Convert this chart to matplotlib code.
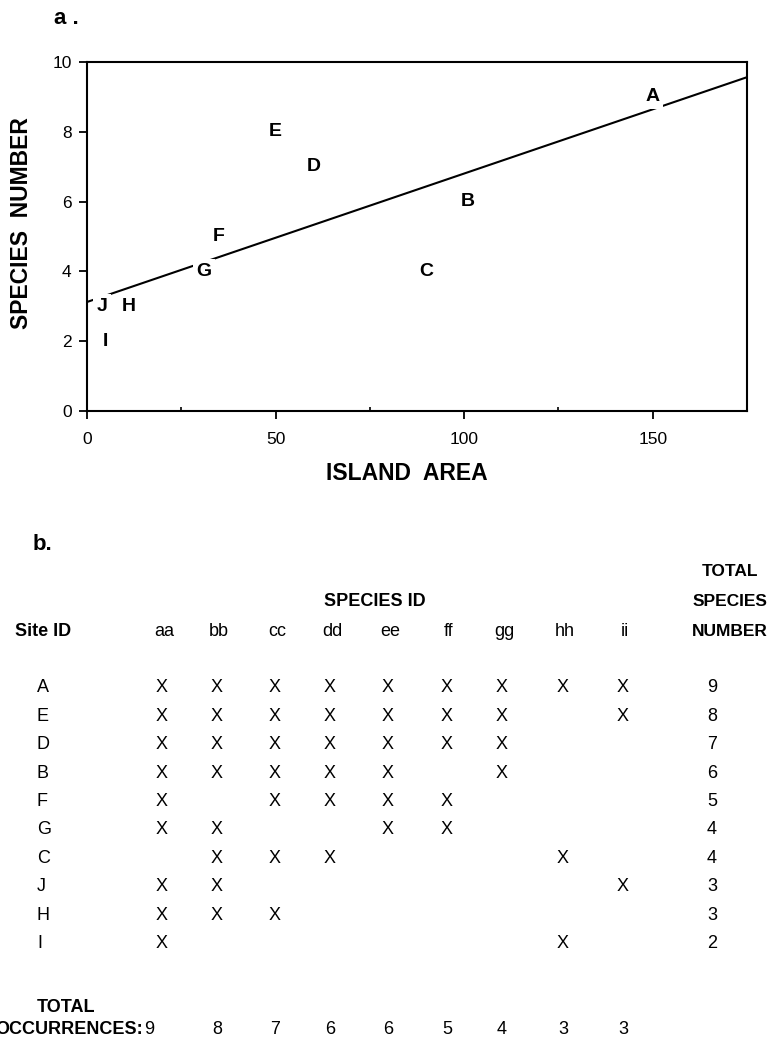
import numpy as np
import matplotlib
matplotlib.use("Agg")
import matplotlib.pyplot as plt
from matplotlib.ticker import MultipleLocator

plt.rcParams['font.family'] = ['Liberation Sans', 'DejaVu Sans']

# sites, in table order
sites = ['A', 'E', 'D', 'B', 'F', 'G', 'C', 'J', 'H', 'I']
island_area = [150, 50, 60, 101, 35, 31, 90, 4, 11, 5]
species_ids = ['aa', 'bb', 'cc', 'dd', 'ee', 'ff', 'gg', 'hh', 'ii']
# presence matrix (rows = sites, cols = species)
presence = [
    [1, 1, 1, 1, 1, 1, 1, 1, 1],
    [1, 1, 1, 1, 1, 1, 1, 0, 1],
    [1, 1, 1, 1, 1, 1, 1, 0, 0],
    [1, 1, 1, 1, 1, 0, 1, 0, 0],
    [1, 0, 1, 1, 1, 1, 0, 0, 0],
    [1, 1, 0, 0, 1, 1, 0, 0, 0],
    [0, 1, 1, 1, 0, 0, 0, 1, 0],
    [1, 1, 0, 0, 0, 0, 0, 0, 1],
    [1, 1, 1, 0, 0, 0, 0, 0, 0],
    [1, 0, 0, 0, 0, 0, 0, 1, 0],
]

pres = np.array(presence)
species_number = pres.sum(axis=1)
occurrences = pres.sum(axis=0)

W, H = 768, 1039
fig = plt.figure(figsize=(W / 100, H / 100), dpi=100)

def ftext(x, y, s, **kw):
    # place text using pixel coords of the page
    fig.text(x / W, 1 - y / H, s, **kw)

# ---- a. scatter + regression
ax = fig.add_axes([87 / W, 1 - 411 / H, 660 / W, 349 / H])
ax.set_xlim(0, 175)
ax.set_ylim(0, 10)

slope, icpt = np.polyfit(island_area, species_number, 1)
xx = np.array([0, 175])
ax.plot(xx, icpt + slope * xx, color='black', lw=1.5, zorder=2)

for s, xa, yn in zip(sites, island_area, species_number):
    ax.text(xa, yn, s, ha='center', va='center', fontsize=14, fontweight='bold',
            bbox=dict(facecolor='white', edgecolor='none', pad=2.5), zorder=3)

for sp in ax.spines.values():
    sp.set_linewidth(1.5)
ax.set_xticks([0, 50, 100, 150])
ax.set_yticks([0, 2, 4, 6, 8, 10])
ax.xaxis.set_minor_locator(MultipleLocator(25))
ax.tick_params(axis='x', which='major', direction='out', length=6, width=1.3,
               labelsize=12.5, pad=9, top=False)
ax.tick_params(axis='x', which='minor', direction='in', length=3, width=1.2, top=False)
ax.tick_params(axis='y', direction='out', length=6, width=1.3, labelsize=12.5,
               pad=5, right=False)

ax.set_xlabel('ISLAND  AREA', fontsize=16.5, fontweight='bold')
ax.set_ylabel('SPECIES  NUMBER', fontsize=16.5, fontweight='bold')
ax.xaxis.set_label_coords((407 - 87) / 660, -(462 - 411) / 349)
ax.yaxis.set_label_coords((33 - 87) / 660, (411 - 223) / 349)

ftext(54, 19, 'a .', fontsize=16, fontweight='bold', va='center')

# ---- b. table
ftext(33, 545, 'b.', fontsize=16, fontweight='bold', va='center')

col_x = [162, 217, 275, 330, 388, 447, 502, 563, 623]
tot_x = 712
row_y0, row_dy = 688, 28.4

ftext(375, 602, 'SPECIES ID', fontsize=13, fontweight='bold', ha='center', va='center')
ftext(15, 631, 'Site ID', fontsize=13, fontweight='bold', ha='left', va='center')
for cx, name in zip(col_x, species_ids):
    ftext(cx + 2, 632, name, fontsize=13, ha='center', va='center')
for yy, t in zip([572, 602, 631], ['TOTAL', 'SPECIES', 'NUMBER']):
    ftext(730, yy, t, fontsize=12.5, fontweight='bold', ha='center', va='center')

for i, s in enumerate(sites):
    y = row_y0 + i * row_dy
    ftext(37, y, s, fontsize=13, ha='left', va='center')
    for j, cx in enumerate(col_x):
        if pres[i, j]:
            ftext(cx, y, 'X', fontsize=13, ha='center', va='center')
    ftext(tot_x, y, str(species_number[i]), fontsize=13, ha='center', va='center')

ftext(66, 1007, 'TOTAL', fontsize=13, fontweight='bold', ha='center', va='center')
ftext(143, 1030, 'OCCURRENCES:', fontsize=13, fontweight='bold', ha='right', va='center')
occ_x = list(col_x)
occ_x[0] = 149
for cx, n in zip(occ_x, occurrences):
    ftext(cx, 1030, str(n), fontsize=13, ha='center', va='center')

fig.savefig('out.png', dpi=100, facecolor='white')
